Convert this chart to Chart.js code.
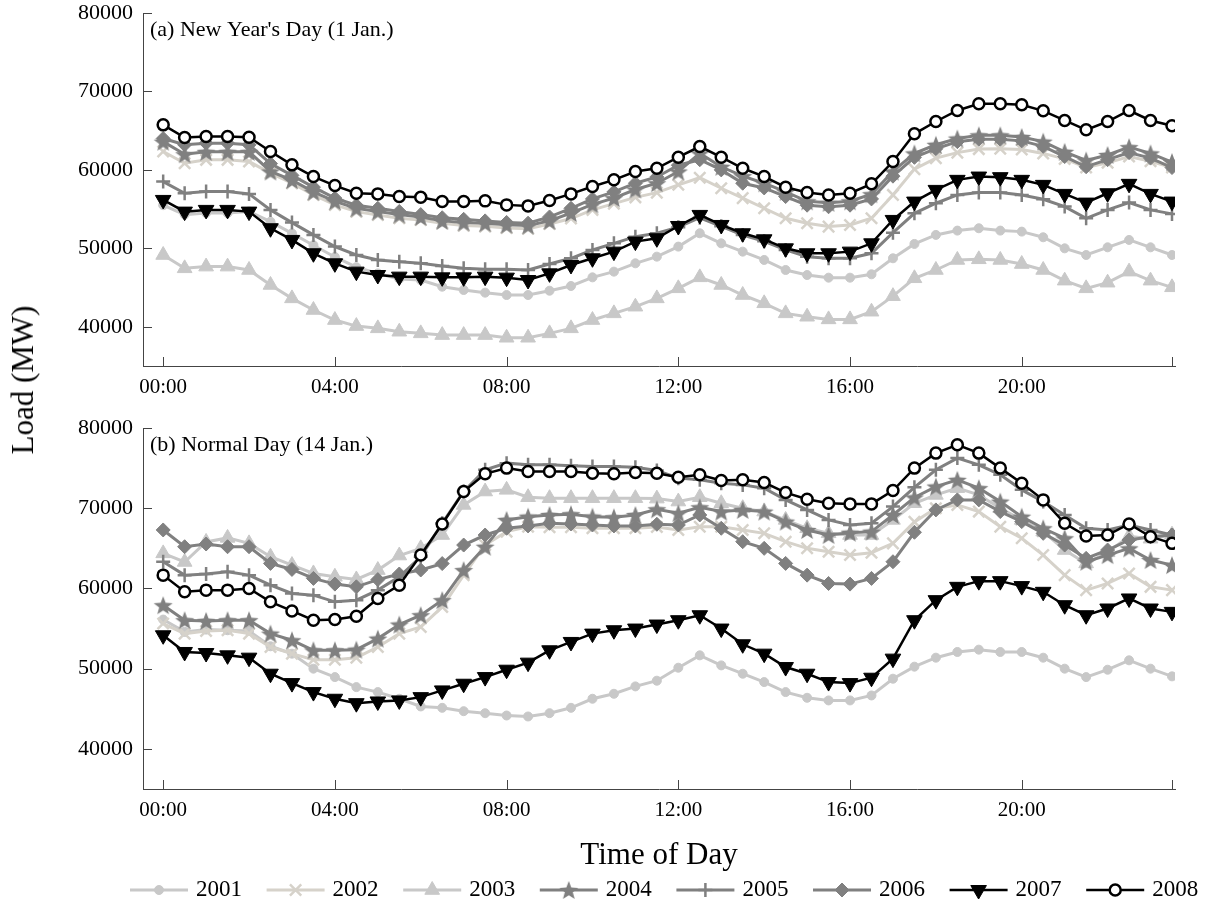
<!DOCTYPE html>
<html>
<head>
<meta charset="utf-8">
<script src="https://cdn.jsdelivr.net/npm/chart.js@4.4.0/dist/chart.umd.min.js"></script>
<style>
  body { margin: 0; background: #fff; }
  #wrap { position: relative; width: 1206px; height: 913px; }
  canvas { position: absolute; left: 0; }
  #chartA { top: 0; }
  #chartB { top: 415px; }
  #yTitle { position: absolute; left: 23px; top: 380px; transform: translate(-50%, -50%) rotate(-90deg);
            font: 31px "Liberation Serif", serif; white-space: nowrap; color: #000; }
</style>
</head>
<body>
<div id="wrap">
  <canvas id="chartA" width="1206" height="400"></canvas>
  <canvas id="chartB" width="1206" height="498"></canvas>
  <div id="yTitle">Load (MW)</div>
</div>
<script>
// half-hour steps, 00:00 .. 23:30 (in hours)
const hours = Array.from({ length: 48 }, (_, i) => i / 2);
const years = ['2001', '2002', '2003', '2004', '2005', '2006', '2007', '2008'];
const yTicks = [40000, 50000, 60000, 70000, 80000];
const xTicks = [0, 4, 8, 12, 16, 20, 23.5];

// (a) New Year's Day
const loadA2001 = [55500, 54300, 54500, 54500, 54700, 53400, 51900, 50400, 48900, 47600, 46800, 46100, 45960, 45110, 44690, 44350, 44050, 44050, 44600, 45200, 46300, 47030, 48090, 48940, 50220, 51920, 50640, 49580, 48520, 47240, 46600, 46260, 46260, 46690, 48730, 50560, 51710, 52260, 52560, 52260, 52130, 51410, 50000, 49150, 50130, 51070, 50130, 49150];
const loadA2002 = [62340, 60850, 61280, 61280, 61060, 59580, 58300, 56810, 55530, 54680, 54260, 53830, 53620, 53200, 52900, 52800, 52600, 52500, 53100, 53800, 54900, 55700, 56500, 57100, 58100, 59000, 57660, 56400, 55110, 53830, 53200, 52770, 52980, 53830, 56810, 60100, 61500, 62200, 62650, 62700, 62600, 62100, 61400, 60300, 60900, 61700, 61100, 60300];
const loadA2003 = [49150, 47450, 47670, 47670, 47240, 45330, 43620, 42140, 40860, 40090, 39800, 39370, 39160, 38940, 38940, 38940, 38600, 38600, 39160, 39800, 40860, 41710, 42560, 43620, 44900, 46300, 45330, 44050, 42990, 41710, 41280, 40940, 40940, 41920, 43900, 46180, 47240, 48520, 48600, 48520, 48000, 47240, 45880, 44900, 45620, 47030, 45880, 45030];
const loadA2004 = [63600, 62000, 62300, 62300, 62300, 59800, 58700, 57200, 56000, 55100, 54700, 54300, 54000, 53500, 53300, 53200, 53000, 52900, 53500, 54500, 55600, 56400, 57500, 58300, 59800, 62100, 60400, 59200, 58300, 57200, 56000, 55800, 56000, 56900, 59800, 62100, 63200, 64000, 64400, 64400, 64200, 63600, 62300, 61200, 61900, 62900, 62100, 61000];
const loadA2005 = [58510, 57020, 57240, 57240, 56940, 54900, 53280, 51710, 50220, 49150, 48520, 48300, 48090, 47750, 47450, 47330, 47330, 47240, 48000, 48730, 49790, 50640, 51490, 51920, 52700, 53900, 52800, 51700, 50900, 49800, 48940, 48730, 48730, 49370, 52000, 54470, 55750, 56810, 57110, 57110, 56810, 56260, 55320, 53830, 54900, 55830, 54900, 54390];
const loadA2006 = [64000, 63200, 63400, 63400, 63200, 60800, 59300, 57800, 56400, 55500, 55100, 54700, 54300, 53900, 53700, 53500, 53300, 53200, 54000, 55100, 56300, 57200, 58300, 59100, 60600, 61300, 60000, 58300, 57700, 56600, 55500, 55300, 55500, 56300, 59200, 61600, 62700, 63600, 63900, 63900, 63700, 63000, 61700, 60400, 61300, 62200, 61500, 60300];
const loadA2007 = [56170, 54680, 54900, 54900, 54680, 52560, 51070, 49370, 48090, 47030, 46600, 46390, 46390, 46300, 46300, 46390, 46260, 45960, 46810, 47880, 48730, 49580, 50860, 51280, 52850, 54260, 52980, 51920, 51150, 50000, 49370, 49370, 49580, 50640, 53620, 55960, 57450, 58730, 59150, 59070, 58730, 58090, 56940, 55830, 57020, 58220, 56940, 55960];
const loadA2008 = [65740, 64130, 64260, 64260, 64170, 62340, 60640, 59150, 58000, 57020, 56940, 56600, 56510, 55960, 55960, 56050, 55540, 55410, 56090, 56940, 57880, 58730, 59790, 60210, 61620, 62980, 61620, 60210, 59150, 57790, 57110, 56810, 57020, 58220, 61070, 64600, 66170, 67570, 68420, 68420, 68300, 67530, 66300, 65110, 66170, 67570, 66300, 65620];

// (b) Normal Day
const loadB2001 = [56120, 54580, 54870, 54790, 54700, 52790, 51870, 50000, 48950, 47700, 47080, 46250, 45290, 45120, 44700, 44450, 44160, 44040, 44450, 45120, 46250, 46870, 47790, 48500, 50120, 51660, 50410, 49370, 48330, 47080, 46370, 46040, 46040, 46660, 48750, 50250, 51370, 52080, 52370, 52080, 52080, 51370, 50000, 48950, 49870, 51040, 50000, 49040];
const loadB2002 = [55620, 54370, 54700, 54790, 54370, 52700, 51870, 51120, 51120, 51370, 52700, 54370, 55200, 57700, 61660, 65410, 67080, 67700, 67620, 67620, 67500, 67500, 67500, 67660, 67290, 67700, 67700, 67290, 66870, 65830, 65000, 64580, 64160, 64450, 65620, 68300, 70000, 70410, 69580, 67700, 66250, 64160, 61660, 59790, 60620, 61870, 60200, 59790];
const loadB2003 = [64370, 63300, 65800, 66300, 65620, 63950, 62910, 61870, 61450, 61120, 62290, 64100, 65000, 66660, 70410, 72080, 72290, 71370, 71250, 71250, 71250, 71250, 71250, 71200, 70830, 71370, 70620, 70000, 69580, 68540, 67500, 66870, 66660, 66660, 68540, 70620, 71660, 72500, 71660, 70000, 68540, 67080, 64790, 63120, 64500, 66500, 66200, 66700];
const loadB2004 = [57910, 56040, 55950, 56040, 56040, 54370, 53540, 52290, 52290, 52370, 53750, 55500, 56660, 58540, 62290, 65200, 68540, 68950, 69160, 69250, 68950, 68870, 69160, 69870, 69370, 70120, 69580, 69790, 69580, 68330, 67290, 66660, 66950, 67080, 69160, 71350, 72700, 73540, 72500, 70830, 68950, 67500, 66250, 63330, 64160, 65000, 63540, 62910];
const loadB2005 = [63330, 61660, 61790, 62080, 61660, 60410, 59370, 59160, 58330, 58540, 59790, 61450, 63950, 68120, 72080, 74790, 75620, 75410, 75410, 75290, 75200, 75200, 75120, 74700, 73750, 73540, 73120, 72910, 72500, 71040, 69790, 68540, 67910, 68120, 70200, 72600, 74790, 76250, 75410, 74160, 72290, 70830, 69160, 67500, 67290, 67910, 67290, 66660];
const loadB2006 = [67290, 65200, 65540, 65200, 65200, 63120, 62370, 61250, 60540, 60200, 61100, 61800, 62300, 63100, 65410, 66660, 67500, 67790, 68120, 68040, 67910, 67790, 67790, 68000, 67910, 69160, 67500, 65830, 65000, 63120, 61660, 60620, 60540, 61250, 63330, 67000, 69790, 71040, 71040, 69580, 68330, 66870, 65410, 63750, 64790, 66040, 66450, 66660];
const loadB2007 = [54160, 52080, 51950, 51660, 51370, 49370, 48200, 47080, 46250, 45700, 45910, 46040, 46450, 47290, 48120, 48950, 49870, 50750, 52290, 53330, 54370, 54790, 55000, 55500, 56040, 56660, 55000, 53040, 51870, 50200, 49370, 48330, 48200, 48870, 51250, 56040, 58540, 60200, 60910, 60910, 60290, 59580, 57910, 56660, 57500, 58750, 57500, 57080];
const loadB2008 = [61660, 59580, 59790, 59790, 60000, 58330, 57200, 56040, 56120, 56540, 58750, 60410, 64160, 68040, 72080, 74290, 75000, 74580, 74580, 74580, 74370, 74290, 74450, 74370, 73870, 74160, 73450, 73540, 73200, 71950, 71120, 70620, 70540, 70540, 72200, 75000, 76870, 77910, 76870, 75000, 73120, 71040, 68120, 66540, 66660, 68040, 66450, 65620];

const font = '"Liberation Serif", "Times New Roman", serif';
const axisColor = '#444';

// filled five-point star, like the pentagram marker
function starMarker(color, outer) {
    const c = document.createElement('canvas');
    const size = Math.ceil(outer * 2 + 2);
    c.width = size; c.height = size;
    const g = c.getContext('2d');
    const inner = outer * 0.42;
    g.beginPath();
    for (let k = 0; k < 10; k++) {
        const r = k % 2 === 0 ? outer : inner;
        const a = -Math.PI / 2 + k * Math.PI / 5;
        const px = size / 2 + r * Math.cos(a), py = size / 2 + r * Math.sin(a) + 1;
        if (k === 0) g.moveTo(px, py); else g.lineTo(px, py);
    }
    g.closePath();
    g.fillStyle = color;
    g.fill();
    return c;
}

const styles = [
    { color: '#c8c8c8', fill: '#c8c8c8', point: 'circle', r: 4.5, lw: 3, pbw: 1 },
    { color: '#d6d2ca', fill: '#d6d2ca', point: 'crossRot', r: 8, lw: 3, pbw: 2.5 },
    { color: '#c8c8c8', fill: '#c8c8c8', point: 'triangle', r: 8.5, lw: 3, pbw: 1 },
    { color: '#808080', fill: '#808080', point: starMarker('#808080', 10), r: 9, lw: 3, pbw: 1 },
    { color: '#808080', fill: '#808080', point: 'cross', r: 7, lw: 3, pbw: 2.5 },
    { color: '#808080', fill: '#808080', point: 'rectRot', r: 7, lw: 3, pbw: 1 },
    { color: '#000000', fill: '#000000', point: 'triangle', rot: 180, r: 9, lw: 2.5, pbw: 1 },
    { color: '#000000', fill: '#ffffff', point: 'circle', r: 5.5, lw: 2.5, pbw: 2.5 }
];

function makeDatasets(rows) {
    return years.map((year, i) => {
        const st = styles[i];
        return {
            label: year,
            data: rows[i],
            borderColor: st.color,
            backgroundColor: st.fill,
            borderWidth: st.lw,
            pointStyle: st.point,
            pointRotation: st.rot || 0,
            pointRadius: st.r,
            pointBackgroundColor: st.fill,
            pointBorderColor: st.color,
            pointBorderWidth: st.pbw,
            pointHoverRadius: st.r,
            tension: 0,
            order: years.length - i   // 2008 drawn on top
        };
    });
}

// inward tick marks + panel caption
const axisDeco = {
    id: 'axisDeco',
    afterDraw(chart, args, opts) {
        const { ctx, chartArea } = chart;
        const xs = chart.scales.x, ys = chart.scales.y;
        ctx.save();
        ctx.strokeStyle = axisColor;
        ctx.lineWidth = 1;
        ctx.beginPath();
        xs.ticks.forEach(t => {
            const px = Math.round(xs.getPixelForValue(t.value)) + 0.5;
            ctx.moveTo(px, chartArea.bottom);
            ctx.lineTo(px, chartArea.bottom - 9);
        });
        ys.ticks.forEach(t => {
            const py = Math.round(ys.getPixelForValue(t.value)) + 0.5;
            ctx.moveTo(chartArea.left, py);
            ctx.lineTo(chartArea.left + 9, py);
        });
        ctx.stroke();
        if (opts.note) {
            ctx.fillStyle = '#000';
            ctx.font = '22px ' + font;
            ctx.textBaseline = 'middle';
            ctx.textAlign = 'left';
            ctx.fillText(opts.note, chartArea.left + 7, chartArea.top + 17);
        }
        ctx.restore();
    }
};

// legend with line sample and marker, in one row under the lower panel
const lineLegend = {
    id: 'lineLegend',
    afterDraw(chart, args, opts) {
        if (!opts.show) return;
        const ctx = chart.ctx;
        const y = chart.height - 23;
        ctx.save();
        chart.data.datasets.forEach((ds, i) => {
            const x0 = 130 + i * 136.6;
            ctx.strokeStyle = ds.borderColor;
            ctx.lineWidth = ds.borderWidth;
            ctx.beginPath();
            ctx.moveTo(x0, y);
            ctx.lineTo(x0 + 58, y);
            ctx.stroke();
            ctx.fillStyle = ds.pointBackgroundColor;
            ctx.strokeStyle = ds.pointBorderColor;
            ctx.lineWidth = ds.pointBorderWidth;
            Chart.helpers.drawPoint(ctx, {
                pointStyle: ds.pointStyle,
                rotation: ds.pointRotation,
                radius: ds.pointRadius,
                borderWidth: ds.pointBorderWidth
            }, x0 + 29, y);
            ctx.fillStyle = '#000';
            ctx.font = '23px ' + font;
            ctx.textBaseline = 'middle';
            ctx.textAlign = 'left';
            ctx.fillText(ds.label, x0 + 66, y);
        });
        ctx.restore();
    }
};

function hhmm(v) {
    const h = Math.floor(v);
    return (h < 10 ? '0' : '') + h + ':00';
}

function panelOptions(note, bottomHeight, withTitle, withLegend) {
    return {
        responsive: false,
        animation: false,
        events: [],
        layout: { padding: { top: 13, right: 31, left: 0, bottom: 0 } },
        plugins: {
            legend: { display: false },
            tooltip: { enabled: false },
            axisDeco: { note: note },
            lineLegend: { show: withLegend }
        },
        scales: {
            x: {
                type: 'linear',
                min: -0.47,
                max: 23.57,
                afterBuildTicks: s => { s.ticks = xTicks.map(v => ({ value: v })); },
                afterFit: s => { s.height = bottomHeight; s.paddingLeft = 0; s.paddingRight = 0; },
                grid: { display: false, drawTicks: false },
                border: { display: true, color: axisColor, width: 1 },
                ticks: {
                    autoSkip: false,
                    maxRotation: 0,
                    padding: 9,
                    color: '#000',
                    font: { family: font, size: 21 },
                    callback: v => (v === 23.5 ? '' : hhmm(v))
                },
                title: {
                    display: withTitle,
                    text: 'Time of Day',
                    color: '#000',
                    font: { family: font, size: 31 },
                    padding: { top: 0, bottom: 39 }
                }
            },
            y: {
                type: 'linear',
                min: 35000,
                max: 80000,
                afterBuildTicks: s => { s.ticks = yTicks.map(v => ({ value: v })); },
                afterFit: s => { s.width = 143; s.paddingTop = 0; s.paddingBottom = 0; },
                grid: { display: false, drawTicks: false },
                border: { display: true, color: axisColor, width: 1 },
                ticks: {
                    padding: 10,
                    color: '#000',
                    font: { family: font, size: 22 },
                    callback: v => String(v)
                }
            }
        }
    };
}

new Chart(document.getElementById('chartA'), {
    type: 'line',
    data: {
        labels: hours,
        datasets: makeDatasets([loadA2001, loadA2002, loadA2003, loadA2004, loadA2005, loadA2006, loadA2007, loadA2008])
    },
    options: panelOptions("(a) New Year's Day (1 Jan.)", 34, false, false),
    plugins: [axisDeco, lineLegend]
});

new Chart(document.getElementById('chartB'), {
    type: 'line',
    data: {
        labels: hours,
        datasets: makeDatasets([loadB2001, loadB2002, loadB2003, loadB2004, loadB2005, loadB2006, loadB2007, loadB2008])
    },
    options: panelOptions('(b) Normal Day (14 Jan.)', 124, true, true),
    plugins: [axisDeco, lineLegend]
});
</script>
</body>
</html>
